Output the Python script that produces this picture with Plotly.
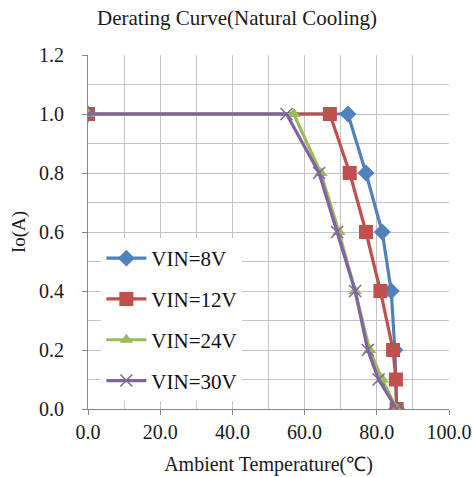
import plotly.graph_objects as go

# Data
names = ["VIN=8V", "VIN=12V", "VIN=24V", "VIN=30V"]
t_8v = [0, 72, 77, 81.5, 84, 85, 85.5]
io_8v = [1.0, 1.0, 0.8, 0.6, 0.4, 0.2, 0.0]
t_12v = [0, 67, 72.5, 77, 81, 84.5, 85.3, 85.5]
io_12v = [1.0, 1.0, 0.8, 0.6, 0.4, 0.2, 0.1, 0.0]
t_24v = [0, 57, 64.5, 69.5, 74, 78, 81.5, 85.5]
io_24v = [1.0, 1.0, 0.8, 0.6, 0.4, 0.2, 0.1, 0.0]
t_30v = [0, 55, 64, 69, 74, 77.5, 80.5, 85.5]
io_30v = [1.0, 1.0, 0.8, 0.6, 0.4, 0.2, 0.1, 0.0]

colors = ["#4F81BD", "#C0504D", "#9BBB59", "#8064A2"]
symbols = ["diamond", "square", "triangle-up", "x-thin"]
sizes = [13, 14, 12, 12]
xs = [t_8v, t_12v, t_24v, t_30v]
ys = [io_8v, io_12v, io_24v, io_30v]

FONT = "Liberation Serif"

fig = go.Figure()
for i in range(4):
    mk = dict(symbol=symbols[i], size=sizes[i], color=colors[i])
    if symbols[i] == "x-thin":
        mk["line"] = dict(color=colors[i], width=1.5)
    fig.add_trace(go.Scatter(
        x=xs[i], y=ys[i], name=names[i], mode="lines+markers",
        line=dict(color=colors[i], width=3.2),
        marker=mk, legendgroup=names[i],
    ))

fig.update_layout(
    width=474, height=477,
    margin=dict(l=88, r=25, t=55, b=68),
    paper_bgcolor="white", plot_bgcolor="white",
    font=dict(family=FONT, size=20, color="#1a1a1a"),
    title=dict(text="Derating Curve(Natural Cooling)", x=0.5, xanchor="center",
               y=1 - 18 / 477, yanchor="middle", font=dict(family=FONT, size=21, color="#1a1a1a")),
    legend=dict(x=0.037, y=0.483, xanchor="left", yanchor="top",
                bgcolor="white", font=dict(family=FONT, size=21, color="#111"),
                tracegroupgap=10.5, itemwidth=40),
    showlegend=True,
)
fig.update_xaxes(
    range=[0, 100], dtick=20, tickformat=".1f", automargin=False,
    showline=True, linecolor="#868686", linewidth=1,
    ticks="outside", ticklen=5, tickcolor="#868686", ticklabelstandoff=0,
    showgrid=True, gridcolor="#c4c4c4", gridwidth=1,
    minor=dict(dtick=10, showgrid=True, gridcolor="#c4c4c4", gridwidth=1),
    zeroline=False,
    title=dict(text="Ambient Temperature(℃)", font=dict(family=FONT, size=20), standoff=14),
    tickfont=dict(family=FONT, size=20),
)
fig.update_yaxes(
    range=[0, 1.2], dtick=0.2, tickformat=".1f", automargin=False,
    showline=True, linecolor="#868686", linewidth=1,
    ticks="outside", ticklen=5, tickcolor="#868686", ticklabelstandoff=14,
    showgrid=True, gridcolor="#c4c4c4", gridwidth=1,
    minor=dict(dtick=0.1, showgrid=True, gridcolor="#c4c4c4", gridwidth=1),
    zeroline=False,
    title=dict(text="Io(A)", font=dict(family=FONT, size=19), standoff=8),
    tickfont=dict(family=FONT, size=20),
)

fig.write_html(
    "out.html",
    config={"displayModeBar": False},
    post_script="document.body.style.margin='0';document.body.style.overflow='hidden';",
)
